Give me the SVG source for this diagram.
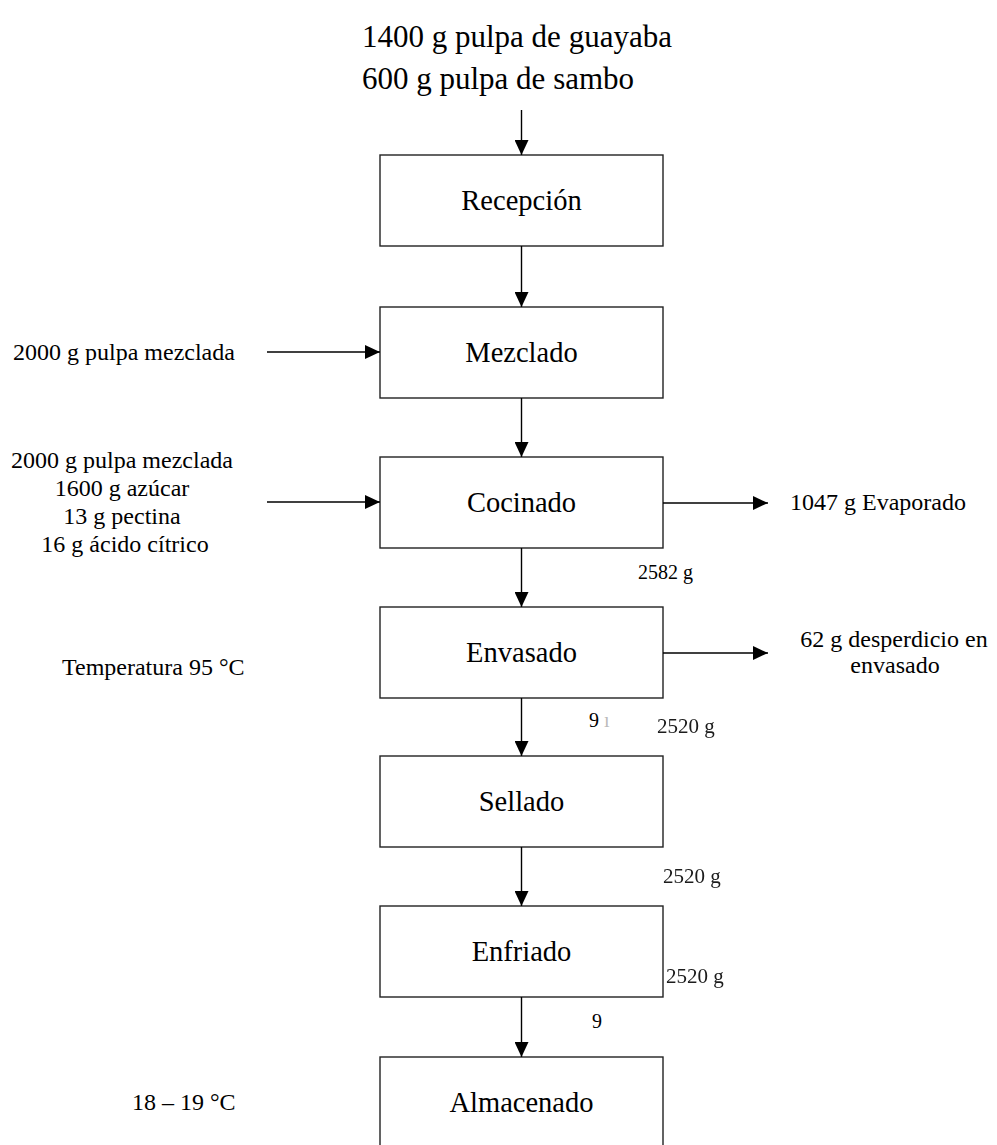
<svg xmlns="http://www.w3.org/2000/svg" width="997" height="1145" viewBox="0 0 997 1145" font-family="'Liberation Serif', 'Times New Roman', 'DejaVu Serif', serif">
  <style>
    .box { fill: #ffffff; stroke: #222222; stroke-width: 1.4; }
    text { font-family: "Liberation Serif", "Times New Roman", "DejaVu Serif", serif; fill: #000000; }
    .lbl { font-size: 28.5px; text-anchor: middle; }
    .side { font-size: 24px; }
    .head { font-size: 31px; }
    .mass { font-size: 20px; }
    .soft { font-size: 21px; fill: #1a1a1a; filter: url(#soft); }
    .flow { stroke: #000000; stroke-width: 1.4; fill: none; marker-end: url(#arrow); }
  </style>
  <defs>
    <marker id="arrow" viewBox="0 0 15 14" refX="15" refY="7" markerWidth="15" markerHeight="14" markerUnits="userSpaceOnUse" orient="auto">
      <path d="M0,0 L15,7 L0,14 Z" fill="#000000"/>
    </marker>
    <filter id="soft" x="-10%" y="-20%" width="120%" height="140%">
      <feGaussianBlur stdDeviation="0.6"/>
    </filter>
  </defs>

  <rect width="997" height="1145" fill="#ffffff"/>

  <!-- raw material inputs -->
  <g id="inputs">
    <text class="head" x="362" y="47">1400 g pulpa de guayaba</text>
    <text class="head" x="362" y="89">600 g pulpa de sambo</text>
  </g>

  <!-- process steps -->
  <g id="recepcion">
    <rect class="box" x="380" y="155" width="283" height="91"/>
    <text class="lbl" x="521.5" y="210">Recepción</text>
  </g>
  <g id="mezclado">
    <rect class="box" x="380" y="307" width="283" height="91"/>
    <text class="lbl" x="521.5" y="362">Mezclado</text>
  </g>
  <g id="cocinado">
    <rect class="box" x="380" y="457" width="283" height="91"/>
    <text class="lbl" x="521.5" y="512">Cocinado</text>
  </g>
  <g id="envasado">
    <rect class="box" x="380" y="607" width="283" height="91"/>
    <text class="lbl" x="521.5" y="662">Envasado</text>
  </g>
  <g id="sellado">
    <rect class="box" x="380" y="756" width="283" height="91"/>
    <text class="lbl" x="521.5" y="811">Sellado</text>
  </g>
  <g id="enfriado">
    <rect class="box" x="380" y="906" width="283" height="91"/>
    <text class="lbl" x="521.5" y="961">Enfriado</text>
  </g>
  <g id="almacenado">
    <rect class="box" x="380" y="1057" width="283" height="100"/>
    <text class="lbl" x="521.5" y="1112">Almacenado</text>
  </g>

  <!-- side inputs and outputs -->
  <g id="in-mezclado">
    <text class="side" x="13" y="360">2000 g pulpa mezclada</text>
  </g>
  <g id="in-cocinado">
    <text class="side" text-anchor="middle">
      <tspan x="125" y="468">2000 g pulpa mezclada</tspan>
      <tspan x="125" y="496">1600 g azúcar</tspan>
      <tspan x="125" y="524">13 g pectina</tspan>
      <tspan x="125" y="552">16 g ácido cítrico</tspan>
    </text>
  </g>
  <g id="out-evaporado">
    <text class="side" x="790" y="510">1047 g Evaporado</text>
  </g>
  <g id="out-desperdicio">
    <text class="side" text-anchor="middle">
      <tspan x="897" y="647">62 g desperdicio en</tspan>
      <tspan x="895" y="673">envasado</tspan>
    </text>
  </g>
  <g id="cond-temperatura">
    <text class="side" x="62" y="675">Temperatura 95 °C</text>
  </g>
  <g id="cond-almacen">
    <text class="side" x="132" y="1110">18 – 19 °C</text>
  </g>

  <!-- mass balance annotations -->
  <g id="masses">
    <text class="mass" x="693" y="579" text-anchor="end">2582 g</text>
    <text class="mass" x="589" y="727">9<tspan fill="#bbbbbb"> ı</tspan></text>
    <text class="soft" x="657" y="733">2520 g</text>
    <text class="soft" x="663" y="883">2520 g</text>
    <text class="soft" x="666" y="983">2520 g</text>
    <text class="mass" x="592" y="1028">9</text>
  </g>

  <!-- connectors -->
  <g id="connectors">
    <line class="flow" x1="521.5" y1="110" x2="521.5" y2="155"/>
    <line class="flow" x1="521.5" y1="246" x2="521.5" y2="307"/>
    <line class="flow" x1="521.5" y1="398" x2="521.5" y2="457"/>
    <line class="flow" x1="521.5" y1="548" x2="521.5" y2="607"/>
    <line class="flow" x1="521.5" y1="698" x2="521.5" y2="756"/>
    <line class="flow" x1="521.5" y1="847" x2="521.5" y2="906"/>
    <line class="flow" x1="521.5" y1="997" x2="521.5" y2="1057"/>
    <line class="flow" x1="267" y1="352" x2="380" y2="352"/>
    <line class="flow" x1="267" y1="502" x2="380" y2="502"/>
    <line class="flow" x1="663" y1="503" x2="768" y2="503"/>
    <line class="flow" x1="663" y1="653" x2="768" y2="653"/>
  </g>
</svg>
